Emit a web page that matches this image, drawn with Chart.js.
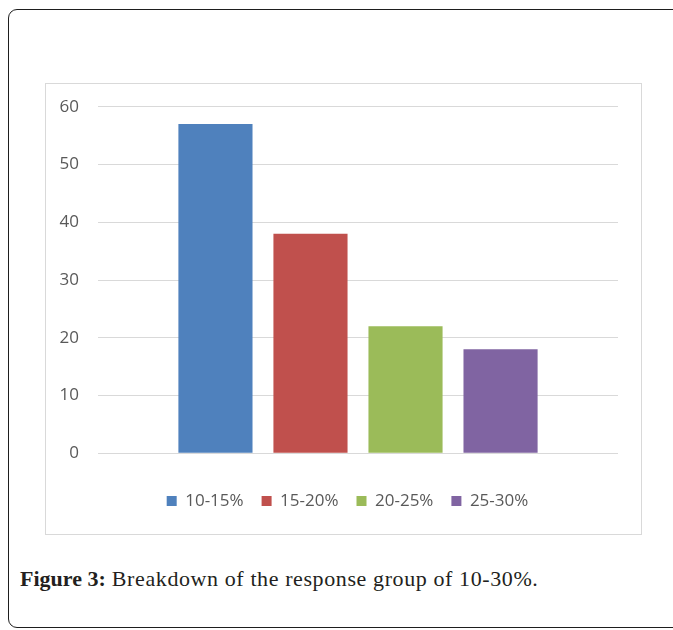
<!DOCTYPE html>
<html>
<head>
<meta charset="utf-8">
<script src="https://cdn.jsdelivr.net/npm/chart.js@4.4.1/dist/chart.umd.min.js"></script>
<style>
  html, body { margin: 0; padding: 0; background: #ffffff; }
  body { width: 673px; height: 630px; position: relative; overflow: hidden; }
  .frame {
    position: absolute; left: 8px; top: 9px; width: 700px; height: 619px;
    border: 1.5px solid #1e1e1e; border-radius: 9px; box-sizing: border-box;
  }
  .chart-box {
    position: absolute; left: 45px; top: 83px; width: 597px; height: 452px;
    border: 1px solid #d9d9d9; box-sizing: border-box;
  }
  #chart { position: absolute; left: 0; top: 0; }
  .caption {
    position: absolute; left: 20px; top: 566px;
    font-family: "Liberation Serif", "DejaVu Serif", serif; font-size: 22px;
    letter-spacing: 0.6px; color: #231f20; white-space: nowrap;
  }
  .caption b { font-weight: bold; letter-spacing: 0; }
</style>
</head>
<body>
<div class="frame"></div>
<div class="chart-box"><canvas id="chart" width="595" height="450"></canvas></div>
<div class="caption"><b>Figure 3:</b> Breakdown of the response group of 10-30%.</div>
<script>
// Response groups and the number of responses in each
const groups = ['10-15%', '15-20%', '20-25%', '25-30%'];
const counts = [57, 38, 22, 18];
const colors = ['#4F81BD', '#C0504D', '#9BBB59', '#8064A2'];
const yTicks = [0, 10, 20, 30, 40, 50, 60];

const labelFont = { family: '"Open Sans", sans-serif', size: 17 };

const datasets = groups.map((g, i) => ({
  label: g,
  data: [counts[i]],
  backgroundColor: colors[i],
  borderWidth: 0,
  categoryPercentage: 0.731,
  barPercentage: 0.78
}));

// Centre the legend on the whole chart box rather than the space left of the right padding
const legendShift = {
  id: 'legendShift',
  afterLayout(chart) {
    const lg = chart.legend;
    if (lg) { lg.left += 15.5; lg.right += 15.5; }
  }
};

new Chart(document.getElementById('chart'), {
  type: 'bar',
  data: { labels: [''], datasets },
  plugins: [legendShift],
  options: {
    responsive: false,
    devicePixelRatio: 1,
    animation: false,
    layout: { padding: { left: 0, right: 23, top: 22.7, bottom: 14.5 } },
    plugins: {
      tooltip: { enabled: false },
      legend: {
        position: 'bottom',
        labels: {
          boxWidth: 10, boxHeight: 10, padding: 18,
          color: '#595959', font: labelFont
        }
      }
    },
    scales: {
      x: {
        grid: { display: false },
        border: { display: false },
        ticks: { display: false },
        afterFit: (axis) => { axis.height = 21.2; }
      },
      y: {
        min: yTicks[0],
        max: yTicks[yTicks.length - 1],
        afterBuildTicks: (axis) => { axis.ticks = yTicks.map(v => ({ value: v })); },
        ticks: { color: '#595959', font: labelFont, padding: 19 },
        grid: { color: '#d9d9d9', lineWidth: 1, drawTicks: false },
        border: { display: false },
        afterFit: (axis) => {
          // the label gap is horizontal only; keep it out of the vertical padding
          axis.width = 52;
          axis.paddingTop = 0;
          axis.paddingBottom = 0;
        }
      }
    }
  }
});
</script>
</body>
</html>
